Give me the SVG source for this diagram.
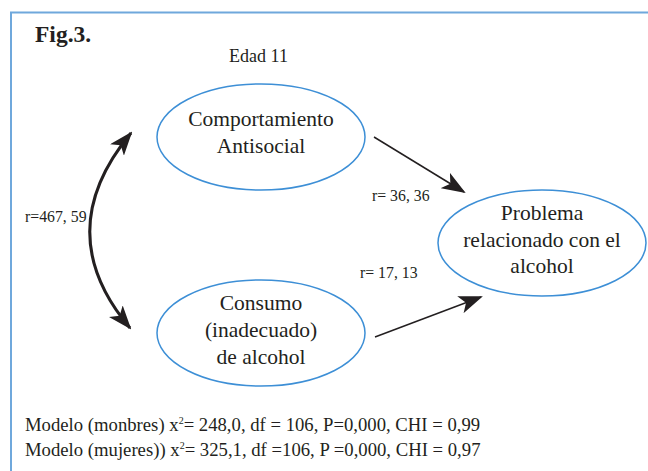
<svg xmlns="http://www.w3.org/2000/svg" width="648" height="471" viewBox="0 0 648 471">
<style>
.t{font-family:"Liberation Serif","Times New Roman",serif;fill:#231f20}
.n{font-size:21.5px;text-anchor:middle}
.s{font-size:15.8px}
.m{font-size:18.7px}
.e{fill:none;stroke:#3d8fd6;stroke-width:1.5}
.c{fill:none;stroke:#231f20}
</style>
<defs>
<marker id="ah2" markerWidth="24" markerHeight="18" refX="22" refY="9" orient="auto" markerUnits="userSpaceOnUse" viewBox="0 0 24 18">
<path d="M0,0 L24,9 L0,18 L6,9 Z" fill="#231f20"/>
</marker>
<marker id="ah2s" markerWidth="24" markerHeight="18" refX="2" refY="9" orient="auto" markerUnits="userSpaceOnUse" viewBox="0 0 24 18">
<path d="M24,0 L0,9 L24,18 L18,9 Z" fill="#231f20"/>
</marker>
</defs>
<rect x="0" y="0" width="648" height="471" fill="#fff"/>
<path d="M11,480 L11,12.5 L660,12.5" fill="none" stroke="#6fa8dc" stroke-width="2"/>
<text class="t" x="35" y="42" font-size="23.5" font-weight="bold">Fig.3.</text>
<text class="t" x="258.5" y="62" font-size="18" text-anchor="middle">Edad 11</text>
<g id="comportamiento">
<ellipse class="e" cx="261" cy="137" rx="104" ry="53"/>
<text class="t n" x="261" y="126">Comportamiento</text>
<text class="t n" x="261" y="153">Antisocial</text>
</g>
<g id="consumo">
<ellipse class="e" cx="261" cy="333" rx="104" ry="53"/>
<text class="t n" x="261" y="310">Consumo</text>
<text class="t n" x="261" y="337">(inadecuado)</text>
<text class="t n" x="261" y="364">de alcohol</text>
</g>
<g id="problema">
<ellipse class="e" cx="542" cy="243" rx="104" ry="53"/>
<text class="t n" x="542" y="220">Problema</text>
<text class="t n" x="542" y="247">relacionado con el</text>
<text class="t n" x="542" y="273">alcohol</text>
</g>
<g id="connectors">
<path class="c" stroke-width="3" d="M131,133 Q49,232 130,328" marker-start="url(#ah2s)" marker-end="url(#ah2)"/>
<path class="c" stroke-width="1.5" d="M374,137 L464,192" marker-end="url(#ah2)"/>
<path class="c" stroke-width="1.5" d="M375,337 L481,297" marker-end="url(#ah2)"/>
</g>
<text class="t s" x="25" y="222">r=467, 59</text>
<text class="t s" x="372" y="201">r= 36, 36</text>
<text class="t s" x="360" y="278">r= 17, 13</text>
<text class="t m" x="25" y="431">Modelo (monbres) x<tspan font-size="10" dy="-7">2</tspan><tspan dy="7">= 248,0, df = 106, P=0,000, CHI = 0,99</tspan></text>
<text class="t m" x="25" y="456">Modelo (mujeres)) x<tspan font-size="10" dy="-7">2</tspan><tspan dy="7">= 325,1, df =106, P =0,000, CHI = 0,97</tspan></text>
</svg>
